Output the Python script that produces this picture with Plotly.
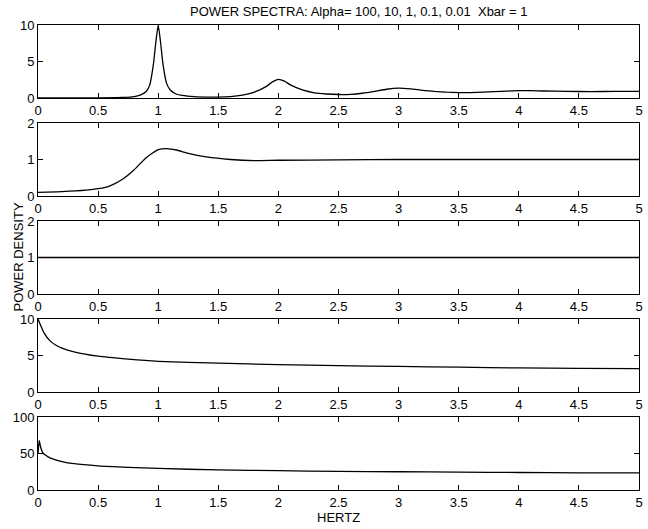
import plotly.graph_objects as go
from plotly.subplots import make_subplots

# ---- data ----
x_a100 = [0, 0.3, 0.5, 0.7, 0.8, 0.85, 0.9, 0.93, 0.96, 0.98, 1.0, 1.02, 1.04, 1.07, 1.1, 1.15, 1.2, 1.3,
          1.4, 1.5, 1.6, 1.7, 1.8, 1.9, 1.95, 2.0, 2.05, 2.1, 2.2, 2.3, 2.4, 2.5, 2.6, 2.7, 2.8, 2.9,
          3.0, 3.1, 3.2, 3.3, 3.4, 3.5, 3.6, 3.7, 3.8, 3.9, 4.0, 4.1, 4.2, 4.4, 4.6, 4.8, 5.0]
y_a100 = [0.0, 0.0, 0.02, 0.08, 0.2, 0.4, 0.9, 1.8, 4.6, 7.6, 10.0, 7.6, 4.6, 2.0, 1.1, 0.55, 0.35, 0.18,
          0.12, 0.12, 0.2, 0.4, 0.8, 1.6, 2.2, 2.55, 2.3, 1.8, 1.1, 0.7, 0.55, 0.48, 0.5, 0.65, 0.9, 1.2,
          1.35, 1.25, 1.05, 0.9, 0.8, 0.75, 0.75, 0.8, 0.88, 0.95, 1.0, 1.0, 0.96, 0.9, 0.88, 0.9, 0.92]

x_a10 = [0, 0.2, 0.4, 0.5, 0.6, 0.7, 0.8, 0.9, 1.0, 1.07, 1.15, 1.25, 1.4, 1.6, 1.8, 2.0, 2.5, 3.0, 4.0, 5.0]
y_a10 = [0.1, 0.12, 0.16, 0.2, 0.28, 0.45, 0.72, 1.05, 1.27, 1.3, 1.26, 1.17, 1.07, 1.0, 0.97, 0.98, 0.99, 1.0, 1.0, 1.0]

x_a1 = [0, 1, 2, 3, 4, 5]
y_a1 = [1, 1, 1, 1, 1, 1]

x_a01 = [0, 0.02, 0.05, 0.1, 0.15, 0.2, 0.3, 0.5, 0.75, 1.0, 1.5, 2.0, 2.5, 3.0, 3.5, 4.0, 4.5, 5.0]
y_a01 = [10, 9.2, 8.1, 7.0, 6.4, 6.0, 5.5, 4.9, 4.5, 4.2, 3.95, 3.75, 3.6, 3.5, 3.4, 3.3, 3.25, 3.2]

x_a001 = [0, 0.01, 0.02, 0.04, 0.07, 0.1, 0.2, 0.3, 0.5, 0.75, 1.0, 1.5, 2.0, 2.5, 3.0, 3.5, 4.0, 4.5, 5.0]
y_a001 = [50, 68, 60, 51, 47, 44, 39, 36, 33, 31, 29.5, 27.5, 26.5, 25.5, 25, 24.5, 24, 23.5, 23.5]

series = [(x_a100, y_a100), (x_a10, y_a10), (x_a1, y_a1), (x_a01, y_a01), (x_a001, y_a001)]
y_max = [10, 2, 2, 10, 100]
y_tick_text = [["0", "5", "10"], ["0", "1", "2"], ["0", "1", "2"], ["0", "5", "10"], ["0", "50", "100"]]
x_ticks = [0, 0.5, 1, 1.5, 2, 2.5, 3, 3.5, 4, 4.5, 5]
x_tick_text = ["0", "0.5", "1", "1.5", "2", "2.5", "3", "3.5", "4", "4.5", "5"]

title_text = "POWER SPECTRA: Alpha= 100, 10, 1, 0.1, 0.01 \u00a0Xbar = 1"

FONT = "Liberation Sans, Arial, sans-serif"

fig = make_subplots(rows=5, cols=1, vertical_spacing=25 / 465)

for i, (xs, ys) in enumerate(series):
    r = i + 1
    fig.add_trace(go.Scatter(x=xs, y=ys, mode="lines",
                             line=dict(color="black", width=1.3, shape="spline", smoothing=0.5),
                             showlegend=False, hoverinfo="skip"), row=r, col=1)
    fig.update_xaxes(range=[0, 5], tickvals=x_ticks, ticktext=x_tick_text,
                     ticks="inside", ticklen=5, tickcolor="black", tickwidth=1,
                     showline=True, linecolor="black", linewidth=1, mirror="ticks",
                     showgrid=False, zeroline=False, row=r, col=1)
    ym = y_max[i]
    fig.update_yaxes(range=[0, ym], tickvals=[0, ym / 2, ym], ticktext=y_tick_text[i],
                     ticks="inside", ticklen=5, tickcolor="black", tickwidth=1,
                     showline=True, linecolor="black", linewidth=1, mirror="ticks",
                     showgrid=False, zeroline=False, row=r, col=1)

fig.add_annotation(text=title_text, xref="paper", yref="paper", x=0.5, xshift=20, y=1, yshift=14,
                   showarrow=False, yanchor="middle", font=dict(size=13, color="black", family=FONT))
fig.add_annotation(text="HERTZ", xref="paper", yref="paper", x=0.5, y=0, yshift=-27,
                   showarrow=False, yanchor="middle", font=dict(size=13, color="black", family=FONT))
fig.add_annotation(text="POWER DENSITY", xref="paper", yref="paper", x=0, xshift=-20, y=0.5,
                   textangle=-90, showarrow=False, xanchor="center", yanchor="middle",
                   font=dict(size=13, color="black", family=FONT))

fig.update_layout(width=648, height=529, margin=dict(l=38, r=5, t=25, b=39),
                  paper_bgcolor="white", plot_bgcolor="white",
                  font=dict(family=FONT, size=13, color="black"))

fig.write_html("out.html", config={"displayModeBar": False},
               post_script="document.body.style.margin='0';")
